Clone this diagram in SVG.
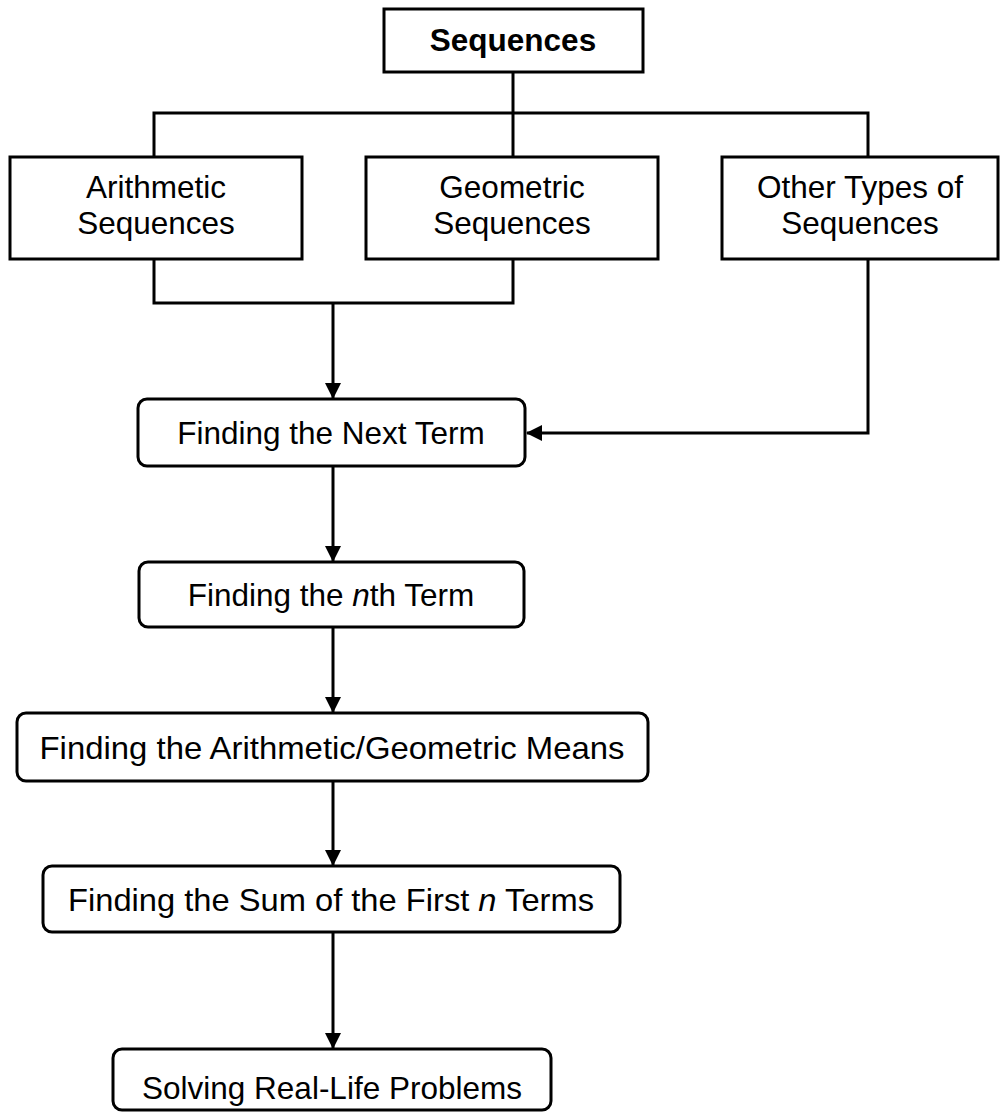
<svg xmlns="http://www.w3.org/2000/svg" width="1005" height="1113" viewBox="0 0 1005 1113">
<style>
.box{fill:#fff;stroke:#000;stroke-width:3}
.t{font-family:"Liberation Sans",Arial,sans-serif;font-size:31.5px;fill:#000;text-anchor:middle}
.b{font-weight:bold}
.c{fill:none;stroke:#000;stroke-width:3}
</style>
<defs>
<marker id="ah" markerUnits="userSpaceOnUse" markerWidth="17" markerHeight="17" refX="15" refY="8" orient="auto">
<path d="M0,0 L16,8 L0,16 Z" fill="#000"/>
</marker>
</defs>
<g id="connectors">
<path class="c" d="M513,72 V113"/>
<path class="c" d="M154,157 V113 H868 V157"/>
<path class="c" d="M513,113 V157"/>
<path class="c" d="M154,259 V303 H513 V259"/>
<path class="c" d="M333,303 V398" marker-end="url(#ah)"/>
<path class="c" d="M868,259 V433 H527" marker-end="url(#ah)"/>
<path class="c" d="M333,466 V561" marker-end="url(#ah)"/>
<path class="c" d="M333,627 V712" marker-end="url(#ah)"/>
<path class="c" d="M333,781 V865" marker-end="url(#ah)"/>
<path class="c" d="M333,932 V1048" marker-end="url(#ah)"/>
</g>
<g id="sequences">
<rect class="box" x="384" y="9" width="259" height="63"/>
<text class="t b" x="513" y="51">Sequences</text>
</g>
<g id="arithmetic">
<rect class="box" x="10" y="157" width="292" height="102"/>
<text class="t" x="156" y="198">Arithmetic</text>
<text class="t" x="156" y="234">Sequences</text>
</g>
<g id="geometric">
<rect class="box" x="366" y="157" width="292" height="102"/>
<text class="t" x="512" y="198">Geometric</text>
<text class="t" x="512" y="234">Sequences</text>
</g>
<g id="other">
<rect class="box" x="722" y="157" width="276" height="102"/>
<text class="t" x="860" y="198">Other Types of</text>
<text class="t" x="860" y="234">Sequences</text>
</g>
<g id="next-term">
<rect class="box" x="138" y="399" width="387" height="67" rx="9"/>
<text class="t" x="331" y="444">Finding the Next Term</text>
</g>
<g id="nth-term">
<rect class="box" x="139" y="562" width="385" height="65" rx="9"/>
<text class="t" x="331" y="606">Finding the <tspan font-style="italic">n</tspan>th Term</text>
</g>
<g id="means">
<rect class="box" x="17" y="713" width="631" height="68" rx="9"/>
<text class="t" x="332" y="759" textLength="585" lengthAdjust="spacingAndGlyphs">Finding the Arithmetic/Geometric Means</text>
</g>
<g id="sum">
<rect class="box" x="43" y="866" width="577" height="66" rx="9"/>
<text class="t" x="331" y="911" textLength="526" lengthAdjust="spacingAndGlyphs">Finding the Sum of the First <tspan font-style="italic">n</tspan> Terms</text>
</g>
<g id="solve">
<rect class="box" x="113" y="1049" width="438" height="61" rx="9"/>
<text class="t" x="332" y="1099">Solving Real-Life Problems</text>
</g>
</svg>
